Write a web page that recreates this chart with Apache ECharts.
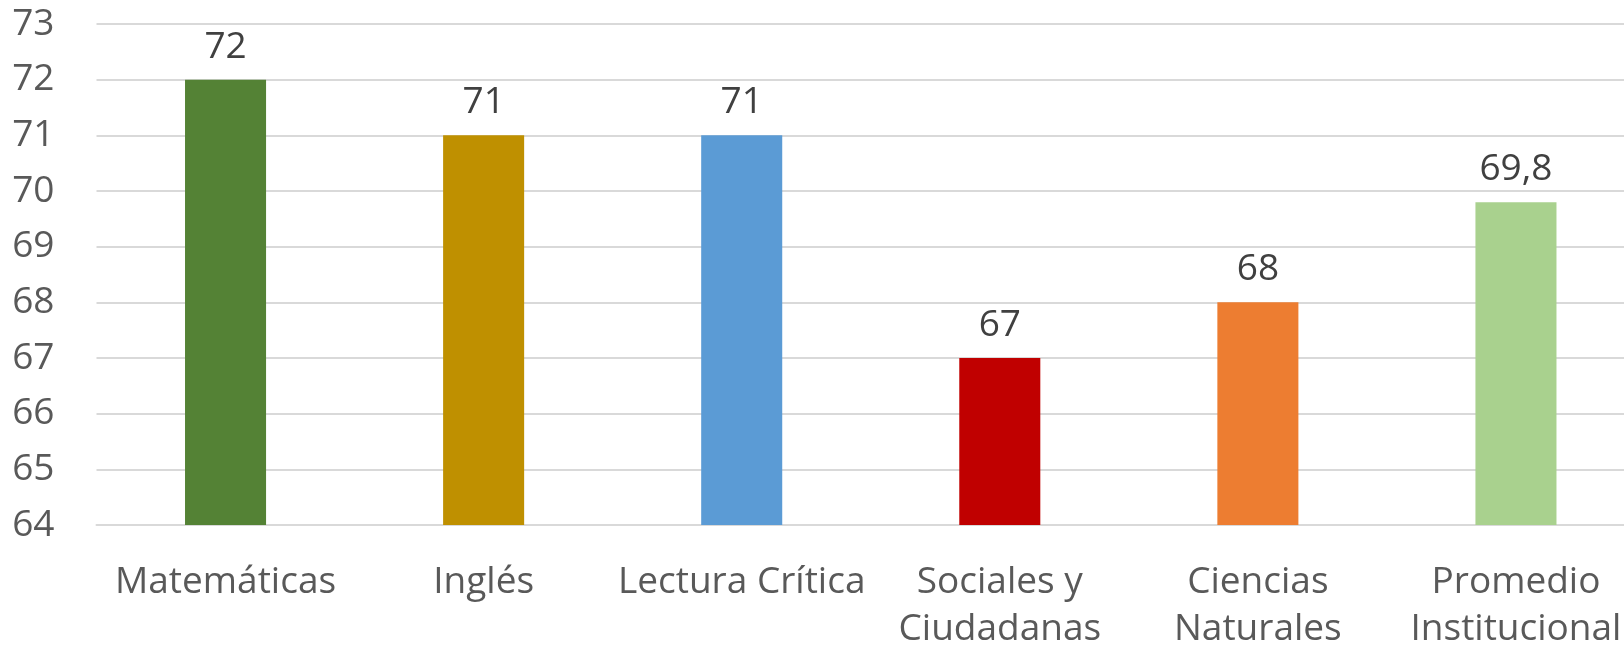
<!DOCTYPE html>
<html>
<head>
<meta charset="utf-8">
<script src="https://cdn.jsdelivr.net/npm/echarts@6/dist/echarts.min.js"></script>
<style>
html,body{margin:0;padding:0;background:#fff;overflow:hidden;width:1624px;height:653px;}
#chart{width:1645px;height:653px;}
</style>
</head>
<body>
<div id="chart"></div>
<script>
const categories = ['Matemáticas', 'Inglés', 'Lectura Crítica', 'Sociales y\nCiudadanas', 'Ciencias\nNaturales', 'Promedio\nInstitucional'];
const values = [72, 71, 71, 67, 68, 69.8];
const barColors = ['#548235', '#BF9000', '#5B9BD5', '#C00000', '#ED7D31', '#A9D18E'];
const yMin = 64, yMax = 73, yInterval = 1;

const FONT = '"Open Sans", sans-serif';
const chart = echarts.init(document.getElementById('chart'), null, {renderer: 'canvas'});
chart.setOption({
  animation: false,
  backgroundColor: '#ffffff',
  grid: {left: 96.5, right: 0, top: 24, bottom: 126, containLabel: false},
  xAxis: {
    type: 'category',
    data: categories,
    axisLine: {show: true, lineStyle: {color: '#d9d9d9', width: 2}},
    axisTick: {show: false},
    axisLabel: {
      interval: 0, margin: 34, color: '#595959', fontFamily: FONT, fontSize: 37, lineHeight: 47
    }
  },
  yAxis: {
    type: 'value', min: yMin, max: yMax, interval: yInterval,
    axisLine: {show: false}, axisTick: {show: false},
    splitLine: {lineStyle: {color: '#d9d9d9', width: 2}},
    axisLabel: {margin: 42, color: '#595959', fontFamily: FONT, fontSize: 37}
  },
  series: [{
    type: 'bar',
    data: values.map((v, i) => ({value: v, itemStyle: {color: barColors[i]}})),
    barWidth: '31.4%',
    label: {
      show: true, position: 'top', distance: 14,
      color: '#404040', fontFamily: FONT, fontSize: 37,
      formatter: p => String(p.value).replace('.', ',')
    }
  }]
});
</script>
</body>
</html>
